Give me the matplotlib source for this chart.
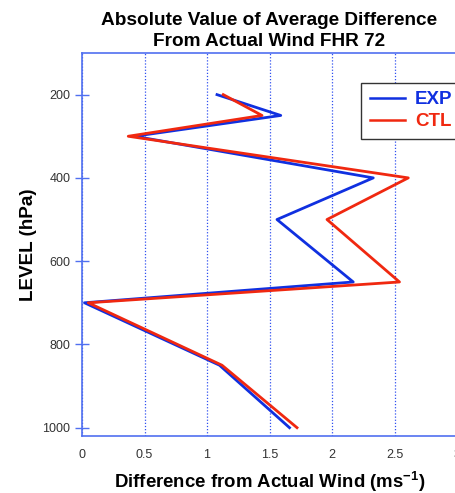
import matplotlib
matplotlib.use("Agg")
import matplotlib.pyplot as plt
import numpy as np

levels = [200, 250, 300, 400, 500, 650, 700, 850, 1000]
exp_vals = [1.08, 1.59, 0.42, 2.33, 1.56, 2.17, 0.02, 1.10, 1.66]
ctl_vals = [1.13, 1.44, 0.37, 2.61, 1.96, 2.54, 0.05, 1.12, 1.72]
xticks = [0, 0.5, 1, 1.5, 2, 2.5, 3]
xtick_labels = ["0", "0.5", "1", "1.5", "2", "2.5", "3"]
yticks = [200, 400, 600, 800, 1000]

plt.rcParams['font.family'] = ['Liberation Sans', 'DejaVu Sans']
plt.rcParams['mathtext.fontset'] = 'custom'
plt.rcParams['mathtext.rm'] = 'Liberation Sans:bold'
plt.rcParams['mathtext.bf'] = 'Liberation Sans:bold'
plt.rcParams['mathtext.default'] = 'bf'

fig = plt.figure(figsize=(4.55, 4.93), dpi=100)
ax = fig.add_axes([82/455, 1-436/493, 375/455, 383/493])

spine_c = '#5070f0'
grid_c = '#3050f0'

ax.plot(exp_vals, levels, color='#1030e0', lw=2.0, label='EXP')
ax.plot(ctl_vals, levels, color='#f02810', lw=2.0, label='CTL')

ax.set_xlim(0, 3)
ax.set_ylim(1020, 100)
ax.set_xticks(xticks)
ax.set_xticklabels(xtick_labels)
ax.set_yticks(yticks)

for s in ax.spines.values():
    s.set_color(spine_c)
    s.set_linewidth(1.2)

ax.xaxis.grid(True, linestyle=(0, (1, 1.5)), color=grid_c, lw=0.9)
ax.tick_params(axis='both', colors=spine_c, labelcolor='#333333', labelsize=9)
ax.tick_params(axis='y', direction='inout', length=10, width=1)
ax.tick_params(axis='x', direction='in', length=0, pad=9.5)

ax.set_title('Absolute Value of Average Difference\nFrom Actual Wind FHR 72',
             fontsize=13.7, fontweight='bold', pad=5, linespacing=1.35)
ax.set_xlabel('Difference from Actual Wind (ms$^{-1}$)', fontsize=13.4,
              fontweight='bold', labelpad=6)
ax.set_ylabel('LEVEL (hPa)', fontsize=13.6, fontweight='bold', labelpad=4)

leg = ax.legend(loc='upper right', bbox_to_anchor=(1.01, 0.922),
                borderaxespad=0, fancybox=False, framealpha=1,
                edgecolor='#333333', handlelength=1.9, handletextpad=0.5,
                borderpad=0.45, labelspacing=0.25,
                prop={'weight': 'bold', 'size': 13.5})
for txt, line in zip(leg.get_texts(), leg.get_lines()):
    txt.set_color(line.get_color())
    line.set_linewidth(1.8)
leg.get_frame().set_linewidth(1.0)

fig.savefig('out.png', dpi=100)
